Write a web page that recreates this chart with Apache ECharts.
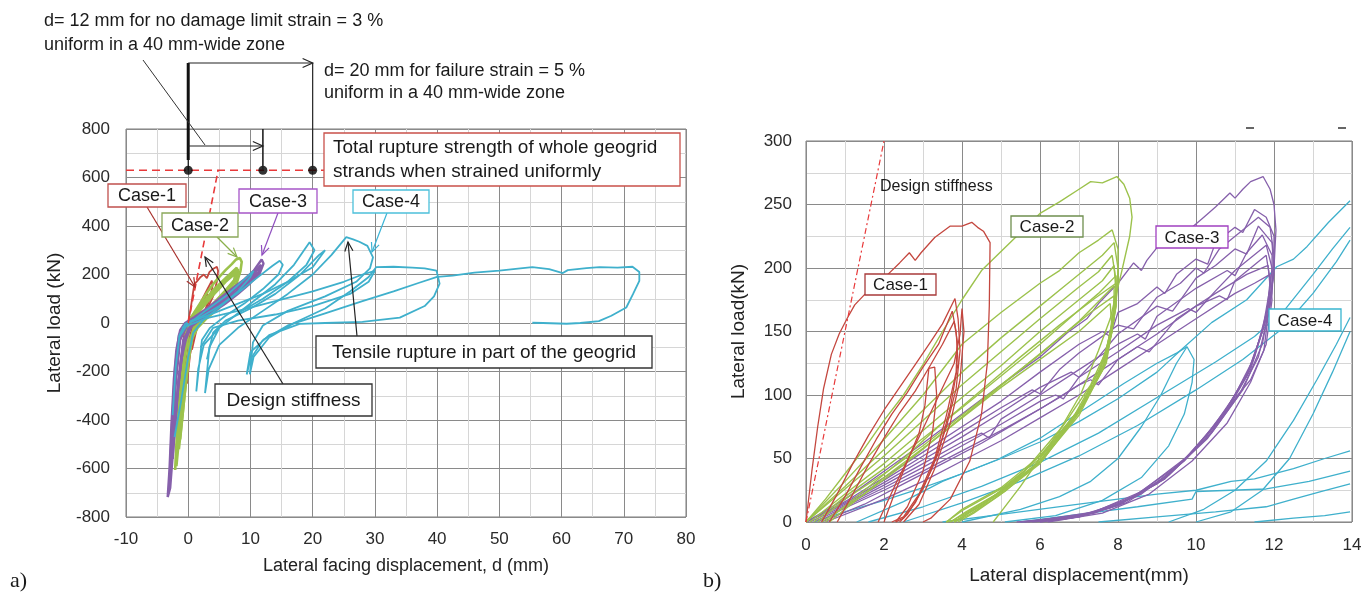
<!DOCTYPE html>
<html>
<head>
<meta charset="UTF-8">
<title></title>
<style>html,body{margin:0;padding:0;background:#fff;}</style>
</head>
<body>
<div id="main" style="width:1365px;height:594px;"></div>
<script src="https://cdn.jsdelivr.net/npm/echarts@6.0.0/dist/echarts.min.js"></script>
<script>
// ---- data ----
// axis ranges: [min, max, interval]
var leftXTicks = [-10, 80, 10];
var leftYTicks = [-800, 800, 200];
var rightXTicks = [0, 14, 2];
var rightYTicks = [0, 300, 50];

// panel a) : lateral facing displacement d (mm) vs lateral load (kN)
var leftStiffness = [[0, 0], [4.8, 630]];
var ruptureLine = [[-10, 630], [21.8, 630]];
var limitDots = [[0, 630], [12, 630], [20, 630]];
var rightStiffness = [[0, 0], [2, 300]];

var leftCase1 = [
  [[-1.6,-300],[-1.2,-150],[-0.6,-40],[0,5],[0.4,60],[0.8,130],[1.0,160],[1.5,175],[2.0,190],[2.5,200],[3.0,185],[3.4,210],[3.9,222],[4.6,232],[4.8,215],[4.6,170],[4.0,110],[3.0,55],[2.0,15],[1.0,-20],[0.2,-80],[-0.5,-180],[-1.2,-320]],
  [[-1.0,-220],[-0.5,-70],[0,-5],[1,35],[2,85],[3,135],[3.8,175],[3.9,150],[3.4,95],[2.6,40],[1.8,5],[1.0,-40],[0.3,-130],[-0.2,-250]],
  [[-0.3,-180],[0.3,-50],[1.2,20],[2.2,80],[3.0,120],[3.3,105],[2.9,65],[2.1,20],[1.4,-20],[0.6,-110]]
];
var leftCase2 = [
  [[-2.1,-606],[-1.8,-450],[-1.4,-260],[-0.8,-90],[0,0],[1,45],[2,85],[3,125],[4,160],[5,190],[6,218],[7,243],[7.7,262],[8.3,268],[8.6,252],[8.4,215],[7.8,165],[6.5,110],[5,65],[3,20],[1.5,-20],[0.3,-80],[-0.6,-220],[-1.3,-430],[-1.9,-590]],
  [[-1.8,-520],[-1.2,-270],[-0.5,-70],[0.5,25],[2,75],[4,135],[6,185],[7.8,228],[8,205],[7.2,160],[5.5,105],[3.5,50],[2,10],[0.8,-40],[0,-150],[-0.8,-350],[-1.5,-520]],
  [[-1.5,-450],[-0.9,-200],[-0.2,-40],[1,30],[3,95],[5,150],[7,200],[7.9,215],[7.6,175],[6,125],[4,70],[2.2,25],[1,-20],[0.2,-120],[-0.6,-300],[-1.3,-480]],
  [[-1.2,-380],[-0.6,-150],[0.2,-10],[2,55],[4,115],[6,170],[7.6,205],[7.3,165],[5.5,110],[3.5,60],[1.8,15],[0.6,-60],[-0.3,-220]],
  [[-1.6,-500],[-1.0,-240],[-0.3,-50],[0.8,30],[2.5,80],[4.5,140],[6.5,190],[8.0,222],[7.9,190],[6.8,145],[5,95],[3,45],[1.5,5],[0.4,-60],[-0.5,-260]],
  [[-1.4,-420],[-0.7,-160],[0.3,10],[2,60],[4,120],[6,175],[7.7,212],[7.5,180],[6,135],[4.2,85],[2.5,35],[1,-10],[0,-100]]
];
var leftCase3 = [
  [[-3.3,-718],[-3.0,-600],[-2.7,-420],[-2.3,-230],[-1.9,-110],[-1.3,-30],[-0.5,0],[1,25],[3,60],[5,100],[7,140],[9,180],[10.5,215],[11.8,262],[12.1,245],[11.5,205],[10,165],[8,120],[6,80],[4,45],[2,15],[0.5,-15],[-0.8,-90],[-1.6,-260],[-2.3,-480],[-2.9,-680],[-3.3,-718]],
  [[-3.0,-650],[-2.6,-420],[-2.1,-180],[-1.5,-50],[-0.5,-5],[1,20],[3,55],[5,95],[7,130],[9,170],[11,220],[11.7,240],[11.5,215],[10,175],[8,130],[6,90],[4,52],[2,20],[0.5,-10],[-0.8,-70],[-1.8,-300],[-2.5,-560]],
  [[-2.8,-560],[-2.3,-320],[-1.8,-130],[-1.0,-25],[0.5,10],[3,50],[6,110],[9,165],[11.5,230],[11.3,205],[9.5,160],[7,110],[4,55],[1.5,15],[0,-25],[-1.2,-160],[-2.1,-400]],
  [[-2.5,-480],[-2.0,-250],[-1.3,-70],[0,0],[3,45],[6,100],[9,155],[11.2,210],[10.8,185],[8.5,140],[6,95],[3,45],[0.8,0],[-0.6,-60],[-1.6,-250]]
];
var leftCase4 = [
  [[-2.5,-380],[-2.0,-180],[-1.4,-50],[-0.5,-4],[1,15],[3,55],[6,110],[9,180],[10.5,215],[10,190],[8,130],[5,65],[2.5,15],[0.8,-40],[0,-140],[-1.2,-330],[-2.2,-470]],
  [[-0.5,-4],[2,25],[5,70],[8,125],[11,185],[13.5,235],[14.7,257],[15.2,240],[14.5,200],[12,140],[9,80],[6,30],[3.5,-20],[2.2,-70],[1.3,-282],[1.6,-190],[2.5,-90]],
  [[2.5,-90],[5,-20],[8,40],[11,100],[14,160],[17,240],[19.5,333],[20.3,300],[19,240],[16,170],[12,100],[8,40],[5,-20],[3.4,-100],[2.7,-289],[3.3,-190],[5,-90]],
  [[5,-90],[8,-20],[12,50],[16,120],[20,200],[23,280],[25.4,354],[26.5,345],[27.5,335],[28.8,318],[29.7,271],[29.2,225],[27,170],[22,110],[16,50],[12,-10],[10.4,-80],[9.9,-212],[10.5,-140],[13,-60]],
  [[13,-60],[17,0],[22,60],[26,130],[29,190],[30.2,230],[33,232],[36,228],[38,225],[39.9,216],[40.4,162],[39.5,110],[38,70],[34,22],[28,5],[22,0],[17.9,-4],[13,-50],[10,-120],[9.4,-212],[10,-150],[12,-70]],
  [[12,-70],[16,-10],[22,40],[28,90],[33,130],[37,165],[40,190],[42.5,195],[46,208],[50,216],[53,224],[55.3,230],[58,222],[60.2,206],[61,218],[64,226],[66.1,230],[69,228],[71.4,232],[72.5,210],[72.5,174],[71.5,120],[70.4,64],[68,30],[66,8],[63,0],[60.8,-3],[57,0],[55.3,1]],
  [[-1.5,-60],[0,0],[4,40],[8,80],[12,120],[16,170],[20,230],[22,300],[21,280],[18,200],[14,120],[10,60],[6,10],[4,-40],[3,-150]],
  [[-1,-20],[3,20],[8,50],[14,90],[20,130],[25,170],[28,200],[30,215],[29,170],[26,120],[20,70],[14,35],[8,10],[4,-20],[2,-100]]
];

// panel b) : lateral displacement (mm) vs lateral load (kN), close-up
var rightCase1 = [
  [[0,0],[0.15,40],[0.3,75],[0.45,105],[0.65,132],[0.85,148],[1.05,160],[1.25,171],[1.5,179],[1.8,186],[2.1,195],[2.4,204],[2.65,212],[2.8,206],[2.95,212],[3.3,224],[3.7,233],[4.0,233],[4.25,236],[4.4,232],[4.55,229],[4.72,220],[4.7,170],[4.65,125],[4.5,85],[4.2,48],[3.7,18],[3.2,3],[3.0,0]],
  [[0.4,0],[0.8,22],[1.2,46],[1.6,68],[2.0,88],[2.4,106],[2.8,124],[3.2,142],[3.5,156],[3.82,176],[3.9,160],[3.95,135],[3.85,105],[3.6,75],[3.2,40],[2.8,15],[2.5,3],[2.3,0]],
  [[0.6,0],[1.0,20],[1.4,43],[1.8,65],[2.2,85],[2.6,102],[3.0,122],[3.4,140],[3.75,166],[3.85,150],[3.9,125],[3.7,90],[3.4,55],[3.0,26],[2.6,6],[2.4,0]],
  [[0.8,0],[1.2,22],[1.6,45],[2.0,66],[2.4,86],[2.8,103],[3.2,124],[3.5,140],[3.8,158],[3.88,142],[3.85,118],[3.6,84],[3.3,50],[2.9,22],[2.5,4],[2.2,0]],
  [[2.0,0],[2.3,25],[2.6,48],[2.9,70],[3.05,92],[3.15,121],[3.3,122],[3.35,100],[3.25,72],[3.0,40],[2.6,12],[2.3,0]],
  [[1.85,0],[2.3,30],[2.9,67],[3.35,96],[3.8,125],[3.95,148],[4.0,168],[4.05,150],[3.95,112],[3.7,78],[3.3,42],[2.9,14],[2.5,0]]
];
var rightCase2 = [
  [[0,0],[0.5,18],[1,38],[1.5,58],[2,80],[2.5,100],[3,124],[3.5,150],[4,175],[4.5,198],[5,213],[5.5,228],[6,243],[6.5,252],[7,262],[7.3,268],[7.6,267],[7.97,272],[8.15,266],[8.3,255],[8.36,240],[8.3,225],[8.1,198],[7.8,160],[7.5,135],[7.05,101],[6.5,72],[5.97,49],[5.5,28],[5,8],[4.8,0]],
  [[0,0],[1,32],[2,65],[3,100],[4,140],[5,165],[6,188],[6.5,198],[7,212],[7.5,222],[7.85,230],[8.0,215],[8.0,190],[7.9,160],[7.7,128],[7.1,92],[6.0,52],[5.0,27],[4.0,10],[3.6,0]],
  [[0,0],[1,28],[2,57],[3,88],[4,118],[5,145],[6,170],[6.6,185],[7.2,200],[7.6,210],[7.9,220],[8.0,200],[7.95,170],[7.7,125],[7.0,88],[6.0,50],[5.0,26],[4.0,9],[3.6,0]],
  [[0,0],[1,26],[2,52],[3,80],[4,108],[5,134],[6,160],[7,185],[7.5,197],[7.85,210],[7.95,190],[7.9,160],[7.65,122],[7.0,86],[6.0,48],[5.0,24],[4.1,8],[3.7,0]],
  [[0.1,0],[1,22],[2,46],[3,72],[4,98],[5,123],[6,150],[7,175],[7.6,190],[7.9,202],[7.95,180],[7.8,150],[7.6,120],[7.0,84],[6.0,47],[5.0,23],[4.2,8],[3.8,0]],
  [[0.2,0],[1,20],[2,42],[3,66],[4,90],[5,115],[6,140],[7,167],[7.5,180],[7.95,194],[7.95,170],[7.75,140],[7.5,115],[6.9,82],[6.0,46],[5.0,22],[4.3,7],[3.9,0]],
  [[0.3,0],[1,18],[2,38],[3,60],[4,84],[5,108],[6,132],[7,158],[7.9,186],[7.9,160],[7.6,125],[7.0,88],[6.1,50],[5.1,24],[4.2,6],[3.8,0]],
  [[0.4,0],[1.5,22],[2.5,45],[3.5,70],[4.5,95],[5.5,120],[6.5,145],[7.3,165],[7.9,178],[7.85,150],[7.5,118],[6.9,85],[6.0,48],[5.0,24],[4.1,7],[3.7,0]],
  [[0.5,0],[1.5,25],[2.5,50],[3.5,78],[4.5,104],[5.5,130],[6.5,155],[7.4,176],[7.95,188],[7.9,165],[7.7,135],[7.3,108],[6.6,76],[5.6,40],[4.6,15],[3.9,2],[3.6,0]],
  [[0.6,0],[2,35],[3,58],[4,82],[5,106],[6,128],[7,150],[7.8,172],[7.85,150],[7.6,120],[7.15,95],[6.4,65],[5.4,34],[4.5,13],[3.8,0]]
];
var rightCase3 = [
  [[0,0],[1,18],[2,40],[3,62],[4,85],[5,108],[6,130],[6.7,149],[7.2,160],[7.5,172],[8.0,188],[8.4,204],[8.6,198],[8.74,206],[9.0,216],[9.4,222],[9.6,218],[9.9,232],[10.2,240],[10.5,248],[10.87,259],[11.0,255],[11.2,262],[11.4,268],[11.72,272],[11.9,262],[12.0,250],[12.05,230],[12.0,200],[11.9,175],[11.74,135],[11.4,112],[11.07,100],[10.3,67],[9.23,35],[8.2,15],[7.0,4],[6.0,0]],
  [[0,0],[1,16],[2,35],[3,55],[4,75],[5,95],[6,118],[7,140],[7.6,150],[7.8,146],[8,165],[8.5,172],[9,185],[9.2,180],[9.5,195],[10,207],[10.3,203],[10.5,220],[11,232],[11.2,228],[11.5,246],[11.8,240],[12,225],[12.0,200],[11.9,170],[11.6,130],[11.1,100],[10.3,66],[9.2,34],[8.0,13],[7.0,4],[5.8,0]],
  [[0,0],[1,15],[2,33],[3,52],[4,71],[5,90],[5.8,104],[6,101],[6.5,120],[7,133],[8,155],[8.4,152],[9,177],[9.6,188],[10,200],[10.2,196],[10.6,215],[11.2,230],[11.6,240],[11.9,232],[12,210],[11.95,180],[11.7,140],[11.2,104],[10.4,70],[9.3,37],[8.1,15],[7.0,5],[5.6,0]],
  [[0,0],[1,14],[2,31],[3,49],[4,67],[5,86],[6,106],[6.8,118],[7,114],[7.5,130],[8,148],[9,170],[9.4,166],[10,192],[10.5,202],[11,215],[11.3,211],[11.6,233],[11.95,220],[12,195],[11.8,160],[11.4,120],[10.8,88],[9.8,52],[8.6,24],[7.4,8],[5.7,0]],
  [[0.1,0],[1,13],[2,29],[3,46],[4,63],[4.5,70],[4.7,66],[5,81],[6,100],[7,120],[8,140],[8.5,148],[8.7,144],[9,162],[10,184],[10.8,198],[11,194],[11.3,212],[11.7,226],[11.95,210],[11.95,185],[11.7,150],[11.3,115],[10.6,80],[9.6,46],[8.4,20],[7.2,6],[5.5,0]],
  [[0.2,0],[1,12],[2,27],[3,43],[4,60],[5,77],[6,95],[6.4,100],[6.6,97],[7,114],[8,134],[9,155],[9.8,168],[10,165],[10.5,182],[11,198],[11.8,218],[11.95,200],[11.85,170],[11.5,130],[11.0,100],[10.2,64],[9.2,34],[8.0,13],[6.8,3],[5.5,0]],
  [[0.3,0],[1,11],[2,25],[3,40],[4,56],[5,72],[6,89],[7,108],[7.3,112],[7.5,108],[8,128],[9,148],[10,170],[10.6,178],[10.8,175],[11,190],[11.8,210],[11.9,190],[11.8,160],[11.4,122],[10.8,90],[10.0,58],[9.0,30],[7.8,11],[6.6,2],[5.4,0]],
  [[0.4,0],[1.5,14],[2.5,30],[3.5,46],[4.5,62],[5.5,80],[6.5,98],[7.5,118],[8.5,138],[8.8,134],[9.5,160],[10.5,180],[11.3,195],[11.85,202],[11.9,185],[11.7,150],[11.3,115],[10.6,80],[9.7,48],[8.6,22],[7.4,7],[6,0]],
  [[0.5,0],[2,18],[3,32],[4,48],[5,64],[6,82],[7,100],[8,120],[9,140],[10,160],[11,180],[11.5,188],[11.9,195],[11.95,175],[11.8,140],[11.4,110],[10.8,78],[9.9,48],[8.8,22],[7.6,7],[6.2,0]]
];
var rightCase4 = [
  [[1.3,0],[2.5,16],[3.5,32],[4.9,49],[6,66],[7,86],[8.15,109],[9,125],[9.5,133],[9.77,138],[9.95,128],[9.9,110],[9.7,85],[9.3,60],[8.6,35],[7.6,17],[6.4,5],[5.1,0]],
  [[0.2,0],[1,8],[2,17],[3,27],[4,38],[5,50],[6,63],[7,79],[8,97],[9,118],[9.6,135],[10.4,157],[11.3,175],[12.07,201],[12.5,207],[12.85,217],[13.4,236],[13.95,253]],
  [[1.6,0],[3,12],[4.5,28],[6,47],[7.5,70],[9,98],[10.5,126],[11.5,146],[12.3,168],[13,195],[13.5,215],[13.95,232]],
  [[2.5,0],[4,15],[5.5,32],[7,52],[8.5,76],[10,104],[11.2,128],[12.2,152],[13,180],[13.6,205],[13.95,222]],
  [[9.3,0],[10.2,10],[11,25],[11.8,48],[12.5,80],[13.1,112],[13.6,140],[13.95,161]],
  [[10,0],[10.9,8],[11.7,25],[12.4,50],[13.0,85],[13.5,118],[13.95,150]],
  [[3.5,0],[5,6],[7,14],[9,22],[10,25],[10.9,32],[11.5,34],[12.5,42],[13.3,50],[13.95,56]],
  [[5.5,0],[7,6],[8.5,12],[9.9,18],[10,24],[10.9,25],[11.8,26],[12.9,32],[13.95,40]],
  [[7.5,0],[9,4],[10.5,8],[11.8,12],[12.5,18],[13.2,24],[13.95,30]],
  [[11.5,0],[12.5,3],[13.3,5],[13.95,8]],
  [[4,0],[5.5,10],[6.5,20],[7.3,32],[8.0,50],[8.6,75],[9.1,100],[9.5,125],[9.77,138]]
];

var colRed = '#c4473f', colGreen = '#9cc24c', colPurple = '#8660ab', colCyan = '#3fb0cc';
var font = '"Liberation Sans", Arial, sans-serif';

var chart = echarts.init(document.getElementById('main'), null, {renderer: 'canvas'});

var series = [];
function addLoops(loops, color, idx, width, z) {
  loops.forEach(function (d) {
    series.push({
      type: 'line', xAxisIndex: idx, yAxisIndex: idx, data: d,
      showSymbol: false, symbol: 'none', silent: true, z: z,
      lineStyle: {color: color, width: width}
    });
  });
}
// left panel, cyan drawn on top like the original
addLoops(leftCase1, colRed, 0, 1.8, 3);
addLoops(leftCase2, colGreen, 0, 2.6, 4);
addLoops(leftCase3, colPurple, 0, 2.4, 5);
addLoops(leftCase4, colCyan, 0, 1.8, 6);
// right panel
addLoops(rightCase4, colCyan, 1, 1.3, 3);
addLoops(rightCase3, colPurple, 1, 1.3, 4);
addLoops(rightCase2, colGreen, 1, 1.4, 5);
addLoops(rightCase1, colRed, 1, 1.3, 6);

series.push({type: 'line', xAxisIndex: 0, yAxisIndex: 0, data: leftStiffness, showSymbol: false, silent: true, z: 7,
  lineStyle: {color: '#e8393a', width: 1.6, type: [7, 4]}});
series.push({type: 'line', xAxisIndex: 0, yAxisIndex: 0, data: ruptureLine, showSymbol: false, silent: true, z: 7,
  lineStyle: {color: '#e8393a', width: 1.6, type: [8, 5]}});
series.push({type: 'scatter', xAxisIndex: 0, yAxisIndex: 0, data: limitDots, symbolSize: 9, silent: true, z: 8,
  itemStyle: {color: '#000'}});
series.push({type: 'line', xAxisIndex: 1, yAxisIndex: 1, data: rightStiffness, showSymbol: false, silent: true, z: 7,
  lineStyle: {color: '#e8393a', width: 1.2, type: [6, 3, 2, 3]}});

function valAxis(gi, t, extra) {
  var a = {
    type: 'value', gridIndex: gi, min: t[0], max: t[1], interval: t[2],
    axisLine: {show: false, onZero: false},
    axisTick: {show: false},
    axisLabel: {fontSize: 17, color: '#2a2a2a', fontFamily: font},
    splitLine: {show: true, lineStyle: {color: '#8a8a8a', width: 1}},
    minorTick: {show: false, splitNumber: 2},
    minorSplitLine: {show: true, lineStyle: {color: '#d6d6d6', width: 1}},
    nameLocation: 'middle',
    nameTextStyle: {fontFamily: font, color: '#222'}
  };
  for (var k in extra) a[k] = extra[k];
  return a;
}

var option = {
  animation: false,
  backgroundColor: '#fff',
  grid: [
    {left: 126, right: 679, top: 129, bottom: 77, show: true, borderColor: '#7a7a7a', borderWidth: 1},
    {left: 806, right: 13, top: 141, bottom: 72, show: true, borderColor: '#7a7a7a', borderWidth: 1}
  ],
  xAxis: [
    valAxis(0, leftXTicks, {name: 'Lateral facing displacement, d (mm)', nameGap: 40}),
    valAxis(1, rightXTicks, {name: 'Lateral displacement(mm)', nameGap: 44})
  ],
  yAxis: [
    valAxis(0, leftYTicks, {name: 'Lateral load (kN)', nameGap: 62}),
    valAxis(1, rightYTicks, {name: 'Lateral load(kN)', nameGap: 58})
  ],
  series: series
};
option.xAxis[0].axisLabel.margin = 14;
option.xAxis[1].axisLabel.margin = 15;
option.yAxis[0].axisLabel.margin = 16;
option.yAxis[1].axisLabel.margin = 14;
option.xAxis[0].nameTextStyle.fontSize = 18;
option.yAxis[0].nameTextStyle.fontSize = 19;
option.xAxis[1].nameTextStyle.fontSize = 19;
option.yAxis[1].nameTextStyle.fontSize = 19;
chart.setOption(option);

// ---- annotations ----
function P(d, v) { return chart.convertToPixel({gridIndex: 0}, [d, v]); }
var g = [];
function line(x1, y1, x2, y2, color, w) {
  g.push({type: 'line', z: 50, silent: true, shape: {x1: x1, y1: y1, x2: x2, y2: y2}, style: {stroke: color, lineWidth: w}});
}
function arrow(x1, y1, x2, y2, color, w, h) {
  var a = Math.atan2(y2 - y1, x2 - x1), s = 0.42;
  h = h || 10;
  line(x1, y1, x2, y2, color, w);
  g.push({type: 'polyline', z: 50, silent: true, shape: {points: [
    [x2 - h * Math.cos(a - s), y2 - h * Math.sin(a - s)], [x2, y2],
    [x2 - h * Math.cos(a + s), y2 - h * Math.sin(a + s)]]},
    style: {stroke: color, lineWidth: w, fill: null}});
}
function text(x, y, s, size, align, family) {
  g.push({type: 'text', z: 52, silent: true, style: {x: x, y: y, text: s, fill: '#1a1a1a',
    font: size + 'px ' + (family || font), align: align || 'left', verticalAlign: 'middle'}});
}
function box(x, y, w, h, stroke, s, size) {
  g.push({type: 'rect', z: 51, silent: true, shape: {x: x, y: y, width: w, height: h},
    style: {fill: '#fff', stroke: stroke, lineWidth: 1.3}});
  if (s) text(x + w / 2, y + h / 2 + 1, s, size, 'center');
}

var p0 = P(0, 630), p12 = P(12, 630), p20 = P(20, 630), p800 = P(12, 800), p730 = P(0, 730);
// bracket for d = 12 mm and d = 20 mm
line(p0[0], 63, p0[0], 160, '#111', 3);
line(p0[0], 160, p0[0], p0[1], '#111', 1.2);
arrow(p0[0], 63, p20[0], 63, '#222', 1.2, 11);
line(p20[0], 63, p20[0], p20[1], '#222', 1.2);
arrow(p0[0], p730[1], p12[0], p730[1], '#222', 1.2, 11);
line(p12[0], p800[1], p12[0], p12[1], '#222', 1.6);
line(143, 60, 205, 145, '#333', 1);

text(44, 21, 'd= 12 mm for no damage limit strain = 3 %', 18);
text(44, 45, 'uniform in a 40 mm-wide zone', 18);
text(324, 71, 'd= 20 mm for failure strain = 5 %', 18);
text(324, 93, 'uniform in a 40 mm-wide zone', 18);

box(324, 133, 356, 53, '#c9504a');
text(333, 148, 'Total rupture strength of whole geogrid', 19);
text(333, 172, 'strands when strained uniformly', 19);

box(108, 184, 78, 23, '#c0504d', 'Case-1', 18);
arrow(147, 207, 195, 287, '#a8302c', 1.2);
box(162, 213, 76, 24, '#8aa85a', 'Case-2', 18);
arrow(217, 237, 237, 257, '#8ab04a', 1.2);
box(239, 189, 78, 24, '#a655c8', 'Case-3', 18);
arrow(278, 213, 262, 255, '#9050c0', 1.2);
box(353, 190, 76, 23, '#4cc0da', 'Case-4', 18);
arrow(387, 213, 372, 252, '#3ab4d6', 1.2);
box(316, 336, 336, 32, '#333', 'Tensile rupture in part of the geogrid', 19);
arrow(357, 336, 348, 242, '#222', 1.2);
box(215, 384, 157, 32, '#333', 'Design stiffness', 19);
arrow(283, 384, 205, 257, '#222', 1.2);

// panel b labels
text(880, 187, 'Design stiffness', 16);
box(865, 274, 71, 21, '#a83a3a', 'Case-1', 17);
box(1011, 216, 72, 21, '#6f8f4f', 'Case-2', 17);
box(1156, 226, 72, 22, '#a040c0', 'Case-3', 17);
box(1269, 309, 72, 22, '#39b5d0', 'Case-4', 17);
line(1246, 128, 1254, 128, '#333', 1.5);
line(1338, 128, 1346, 128, '#333', 1.5);

text(10, 581, 'a)', 22, 'left', '"Liberation Serif", "Times New Roman", serif');
text(703, 581, 'b)', 22, 'left', '"Liberation Serif", "Times New Roman", serif');

chart.setOption({graphic: g});
</script>
</body>
</html>
